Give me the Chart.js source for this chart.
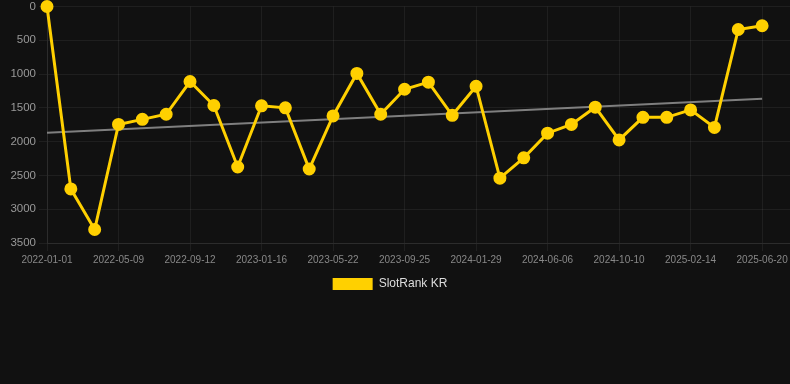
<!DOCTYPE html>
<html>
<head>
<meta charset="utf-8">
<script src="https://cdn.jsdelivr.net/npm/chart.js@4/dist/chart.umd.min.js"></script>
<style>
  html, body { margin: 0; padding: 0; background: #111111; }
  #wrap { width: 790px; height: 300px; position: relative; }
</style>
</head>
<body>
<div id="wrap"><canvas id="c"></canvas></div>
<script>
const dates = [
  "2022-01-01","2022-02-12","2022-03-27","2022-05-09","2022-06-20","2022-08-01",
  "2022-09-12","2022-10-24","2022-12-05","2023-01-16","2023-02-27","2023-04-10",
  "2023-05-22","2023-07-03","2023-08-14","2023-09-25","2023-11-06","2023-12-18",
  "2024-01-29","2024-03-12","2024-04-24","2024-06-06","2024-07-18","2024-08-29",
  "2024-10-10","2024-11-21","2025-01-02","2025-02-14","2025-03-28","2025-05-09",
  "2025-06-20"
];
const ranks = [
  0, 2700, 3300, 1745, 1670, 1595, 1110, 1465, 2375, 1470,
  1500, 2405, 1620, 990, 1595, 1225, 1120, 1610, 1180, 2540,
  2240, 1875, 1745, 1490, 1975, 1640, 1640, 1530, 1790, 340, 285
];
const trendEnds = [1868, 1365];
const yTicks = [0, 500, 1000, 1500, 2000, 2500, 3000, 3500];
const seriesName = "SlotRank KR";

const yellow = "#FFD000";
const points = ranks.map((v, i) => ({ x: i, y: v }));
const trend = [{ x: 0, y: trendEnds[0] }, { x: dates.length - 1, y: trendEnds[1] }];

Chart.defaults.font.family = "'Liberation Sans', Arial, Helvetica, sans-serif";

const legendShift = {
  id: "legendShift",
  afterLayout(chart) {
    if (chart.legend) { chart.legend.left -= 5; chart.legend.right -= 5; }
  }
};

new Chart(document.getElementById("c"), {
  type: "line",
  data: {
    datasets: [
      {
        label: seriesName,
        data: points,
        borderColor: yellow,
        backgroundColor: yellow,
        borderWidth: 3,
        pointRadius: 5,
        pointHoverRadius: 5,
        pointBackgroundColor: yellow,
        pointBorderColor: yellow,
        tension: 0,
        clip: false,
        order: 1
      },
      {
        label: "trend",
        data: trend,
        borderColor: "rgba(140,140,140,0.9)",
        borderWidth: 2,
        pointRadius: 0,
        fill: false,
        order: 2
      }
    ]
  },
  plugins: [legendShift],
  options: {
    responsive: true,
    maintainAspectRatio: false,
    animation: false,
    layout: { autoPadding: false, padding: 0 },
    plugins: {
      legend: {
        position: "bottom",
        labels: {
          color: "#dddddd",
          font: { size: 12 },
          boxWidth: 40,
          boxHeight: 12,
          padding: 9,
          generateLabels: (chart) =>
            Chart.defaults.plugins.legend.labels.generateLabels(chart)
              .filter(item => item.text === seriesName)
              .map(item => Object.assign(item, { lineWidth: 0, strokeStyle: "rgba(0,0,0,0)" }))
        }
      },
      tooltip: { enabled: false }
    },
    scales: {
      x: {
        type: "linear",
        min: 0,
        max: 31.17,
        afterFit: (axis) => { axis.paddingLeft = 0; axis.paddingRight = 0; },
        grid: { color: "rgba(255,255,255,0.06)" },
        border: { color: "rgba(255,255,255,0.06)" },
        ticks: {
          stepSize: 3,
          includeBounds: false,
          autoSkip: false,
          maxRotation: 0,
          color: "#888888",
          font: { size: 10 },
          callback: (v) => Number.isInteger(v) && dates[v] ? dates[v] : ""
        }
      },
      y: {
        reverse: true,
        min: yTicks[0],
        max: yTicks[yTicks.length - 1],
        afterFit: (axis) => { axis.width = 47; axis.paddingTop = 6.5; },
        grid: { color: "rgba(255,255,255,0.06)" },
        border: { color: "rgba(255,255,255,0.06)" },
        afterBuildTicks: (axis) => { axis.ticks = yTicks.map(v => ({ value: v })); },
        ticks: {
          color: "#999999",
          font: { size: 11.5 },
          callback: (v) => String(v)
        }
      }
    }
  }
});
</script>
</body>
</html>
